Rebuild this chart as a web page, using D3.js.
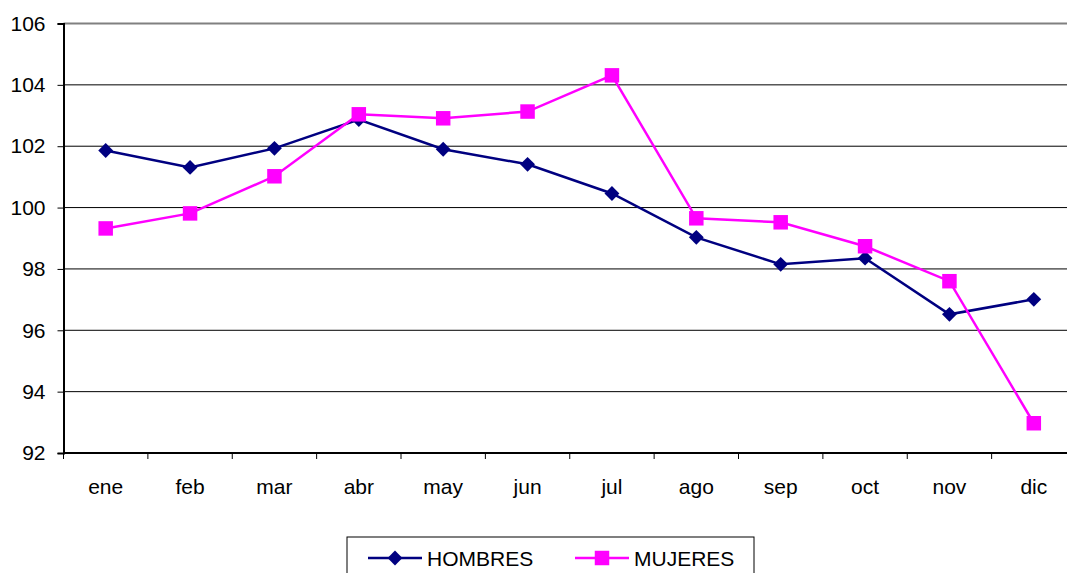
<!DOCTYPE html>
<html>
<head>
<meta charset="utf-8">
<script src="https://cdn.jsdelivr.net/npm/d3@7"></script>
<style>
	body { margin: 0; background: #fff; }
	svg { display: block; font-family: "Liberation Sans", Arial, sans-serif; }
</style>
</head>
<body>
<div id="chart"></div>
<script>
var months = ['ene', 'feb', 'mar', 'abr', 'may', 'jun', 'jul', 'ago', 'sep', 'oct', 'nov', 'dic'];
var hombres = [101.86, 101.31, 101.93, 102.87, 101.9, 101.41, 100.46, 99.03, 98.15, 98.35, 96.52, 97.01];
var mujeres = [99.32, 99.81, 101.02, 103.04, 102.91, 103.13, 104.31, 99.65, 99.52, 98.74, 97.6, 92.97];
var yTicks = [92, 94, 96, 98, 100, 102, 104, 106];

var width = 1067, height = 573;
var plotLeft = 63.5, plotRight = 1076, plotTop = 23.5, plotBottom = 453;

var svg = d3.select('#chart').append('svg')
	.attr('width', width)
	.attr('height', height);

var x = d3.scaleBand().domain(months).range([plotLeft, plotRight]);
var y = d3.scaleLinear().domain([92, 106]).range([plotBottom, plotTop]);

// grid
svg.append('g').selectAll('line')
	.data(yTicks.slice(1))
	.enter().append('line')
	.attr('x1', plotLeft).attr('x2', plotRight)
	.attr('y1', function (d) { return y(d); })
	.attr('y2', function (d) { return y(d); })
	.attr('stroke', function (d) { return d === 106 ? '#808080' : '#000'; })
	.attr('stroke-width', function (d) { return d === 106 ? 2 : 1; });

// y axis
var yAxis = svg.append('g')
	.attr('transform', 'translate(' + plotLeft + ',0)')
	.call(d3.axisLeft(y).tickValues(yTicks).tickSize(6).tickPadding(12));
yAxis.select('.domain').attr('stroke', '#000').attr('stroke-width', 2);
yAxis.selectAll('.tick line').attr('stroke', '#000');
yAxis.selectAll('text').attr('font-size', 21).attr('fill', '#000')
	.attr('font-family', '"Liberation Sans", Arial, sans-serif');

// x axis
var xAxis = svg.append('g')
	.attr('transform', 'translate(0,' + plotBottom + ')');
xAxis.append('line')
	.attr('x1', plotLeft).attr('x2', plotRight)
	.attr('stroke', '#000').attr('stroke-width', 2);
xAxis.selectAll('.tk')
	.data(months)
	.enter().append('line')
	.attr('class', 'tk')
	.attr('x1', function (d) { return x(d); })
	.attr('x2', function (d) { return x(d); })
	.attr('y1', 0).attr('y2', 6)
	.attr('stroke', '#000');
xAxis.selectAll('text')
	.data(months)
	.enter().append('text')
	.attr('x', function (d) { return x(d) + x.bandwidth() / 2; })
	.attr('y', 41)
	.attr('text-anchor', 'middle')
	.attr('font-size', 21)
	.text(function (d) { return d; });

var line = d3.line()
	.x(function (d, i) { return x(months[i]) + x.bandwidth() / 2; })
	.y(function (d) { return y(d); });

var series = [
	{ name: 'HOMBRES', values: hombres, color: '#000080', size: 110, rotate: 45 },
	{ name: 'MUJERES', values: mujeres, color: '#ff00ff', size: 210, rotate: 0 }
];

series.forEach(function (s) {
	svg.append('path')
		.attr('d', line(s.values))
		.attr('fill', 'none')
		.attr('stroke', s.color)
		.attr('stroke-width', 2.5);
	svg.append('g').selectAll('path')
		.data(s.values)
		.enter().append('path')
		.attr('transform', function (d, i) {
			return 'translate(' + (x(months[i]) + x.bandwidth() / 2) + ',' + y(d) + ') rotate(' + s.rotate + ')';
		})
		.attr('d', d3.symbol().type(d3.symbolSquare).size(s.size))
		.attr('fill', s.color);
});

// legend
var legend = svg.append('g');
legend.append('rect')
	.attr('x', 347).attr('y', 537)
	.attr('width', 407).attr('height', 50)
	.attr('fill', '#fff').attr('stroke', '#000').attr('stroke-width', 1);

var legendX = [368, 575];
series.forEach(function (s, i) {
	var g = legend.append('g').attr('transform', 'translate(' + legendX[i] + ',558)');
	g.append('line')
		.attr('x1', 0).attr('x2', 54)
		.attr('stroke', s.color).attr('stroke-width', 2.5);
	g.append('path')
		.attr('transform', 'translate(27,0) rotate(' + s.rotate + ')')
		.attr('d', d3.symbol().type(d3.symbolSquare).size(s.size))
		.attr('fill', s.color);
	g.append('text')
		.attr('x', 59).attr('y', 8)
		.attr('font-size', 21)
		.text(s.name);
});
</script>
</body>
</html>
